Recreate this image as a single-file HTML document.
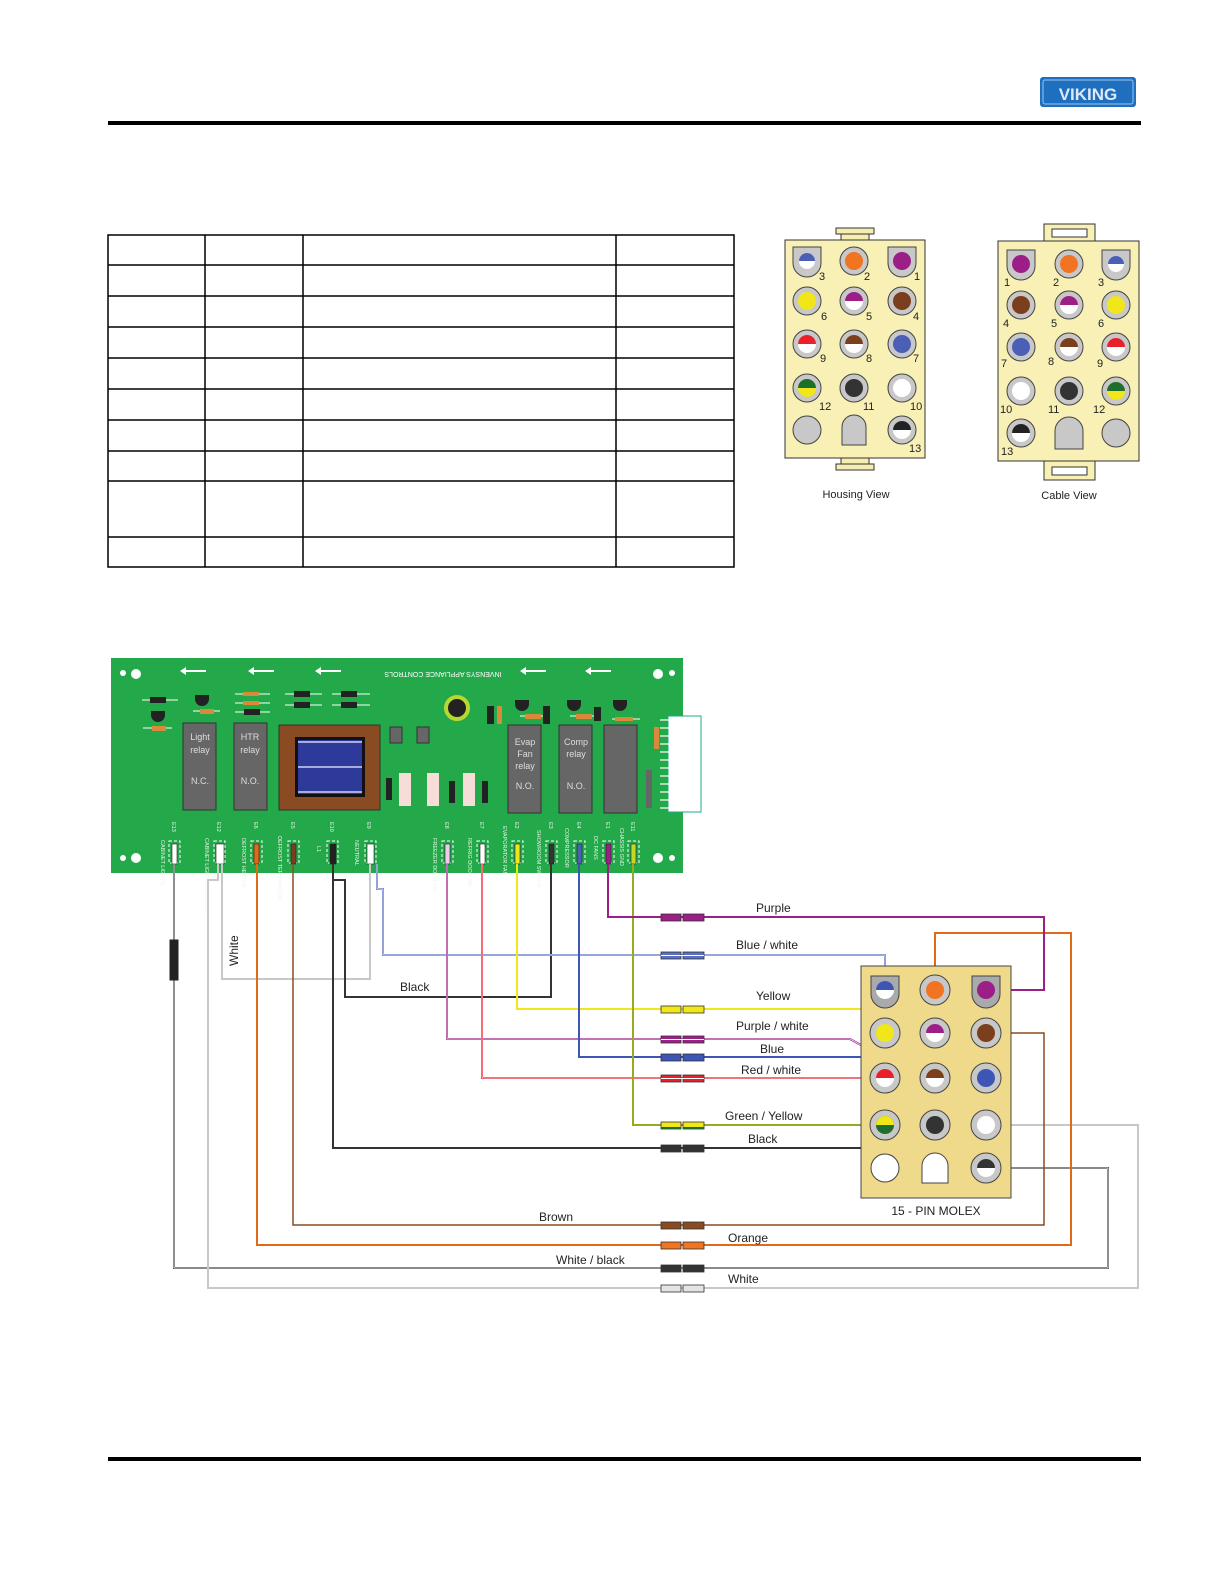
<!DOCTYPE html>
<html><head><meta charset="utf-8"><style>
html,body{margin:0;padding:0;background:#fff;overflow:hidden;width:1224px;height:1584px}
svg{display:block}
text{font-family:"Liberation Sans",Arial,sans-serif}
</style></head><body>
<svg width="1224" height="1584" viewBox="0 0 1224 1584" xmlns="http://www.w3.org/2000/svg">
<!-- header -->
<rect x="1040" y="77" width="96" height="30" rx="3" fill="#1f6fc0"/>
<rect x="1043" y="80" width="90" height="24" rx="2" fill="none" stroke="#9cc4ec" stroke-width="1"/>
<text x="1088" y="100" font-family="Liberation Serif" font-size="17" fill="#dde9f7" text-anchor="middle" font-weight="bold">VIKING</text>
<rect x="108" y="121" width="1033" height="4" fill="#000"/>
<rect x="108" y="1457" width="1033" height="4" fill="#000"/>

<!-- table -->
<g stroke="#000" stroke-width="1.5" fill="none">
<rect x="108" y="235" width="626" height="332"/>
<line x1="205" y1="235" x2="205" y2="567"/><line x1="303" y1="235" x2="303" y2="567"/><line x1="616" y1="235" x2="616" y2="567"/>
<line x1="108" y1="265" x2="734" y2="265"/><line x1="108" y1="296" x2="734" y2="296"/><line x1="108" y1="327" x2="734" y2="327"/>
<line x1="108" y1="358" x2="734" y2="358"/><line x1="108" y1="389" x2="734" y2="389"/><line x1="108" y1="420" x2="734" y2="420"/>
<line x1="108" y1="451" x2="734" y2="451"/><line x1="108" y1="481" x2="734" y2="481"/><line x1="108" y1="537" x2="734" y2="537"/>
</g>

<defs>
<g id="pg"><circle r="14" fill="#c8c8c8" stroke="#444" stroke-width="1"/></g>
<g id="sh"><path d="M-14,-14 H14 V2 A14,14 0 0 1 -14,2 Z" fill="#c8c8c8" stroke="#444" stroke-width="1"/></g>
<g id="pg2"><circle r="15" fill="#c8c8c8" stroke="#444" stroke-width="1"/></g>
</defs>

<!-- Housing view -->
<rect x="836" y="228" width="38" height="6" fill="#f6eeb0" stroke="#333"/>
<rect x="841" y="234" width="28" height="6" fill="#f6eeb0" stroke="#333"/>
<rect x="841" y="458" width="28" height="6" fill="#f6eeb0" stroke="#333"/>
<rect x="836" y="464" width="38" height="6" fill="#f6eeb0" stroke="#333"/>
<rect x="785" y="240" width="140" height="218" fill="#f8f0b4" stroke="#333"/>
<g font-size="11" fill="#222">
<use href="#sh" x="807" y="261"/><circle cx="807" cy="261" r="8" fill="#fff"/><path d="M799,261 A8,8 0 0 1 815,261Z" fill="#4a5fb5"/><text x="819" y="280">3</text>
<use href="#pg" x="854" y="261"/><circle cx="854" cy="261" r="9" fill="#f07422"/><text x="864" y="280">2</text>
<use href="#sh" x="902" y="261"/><circle cx="902" cy="261" r="9" fill="#9c1f88"/><text x="914" y="280">1</text>
<use href="#pg" x="807" y="301"/><circle cx="807" cy="301" r="9" fill="#f0e61a"/><text x="821" y="320">6</text>
<use href="#pg" x="854" y="301"/><circle cx="854" cy="301" r="9" fill="#fff"/><path d="M845,301 A9,9 0 0 1 863,301Z" fill="#9c1f88"/><text x="866" y="320">5</text>
<use href="#pg" x="902" y="301"/><circle cx="902" cy="301" r="9" fill="#7b3f1e"/><text x="913" y="320">4</text>
<use href="#pg" x="807" y="344"/><circle cx="807" cy="344" r="9" fill="#fff"/><path d="M798,344 A9,9 0 0 1 816,344Z" fill="#e8202a"/><text x="820" y="362">9</text>
<use href="#pg" x="854" y="344"/><circle cx="854" cy="344" r="9" fill="#fff"/><path d="M845,344 A9,9 0 0 1 863,344Z" fill="#7b3f1e"/><text x="866" y="362">8</text>
<use href="#pg" x="902" y="344"/><circle cx="902" cy="344" r="9" fill="#4a5fb5"/><text x="913" y="362">7</text>
<use href="#pg" x="807" y="388"/><circle cx="807" cy="388" r="9" fill="#f0e61a"/><path d="M798,388 A9,9 0 0 1 816,388Z" fill="#1e6e2e"/><text x="819" y="410">12</text>
<use href="#pg" x="854" y="388"/><circle cx="854" cy="388" r="9" fill="#333"/><text x="863" y="410">11</text>
<use href="#pg" x="902" y="388"/><circle cx="902" cy="388" r="9" fill="#fff"/><text x="910" y="410">10</text>
<circle cx="807" cy="430" r="14" fill="#c8c8c8" stroke="#444"/>
<path d="M842,445 V427 A12,12 0 0 1 866,427 V445Z" fill="#c8c8c8" stroke="#444"/>
<use href="#pg" x="902" y="430"/><circle cx="902" cy="430" r="9" fill="#fff"/><path d="M893,430 A9,9 0 0 1 911,430Z" fill="#222"/><text x="909" y="452">13</text>
</g>
<text x="856" y="498" font-size="11" text-anchor="middle" fill="#222">Housing View</text>

<!-- Cable view -->
<rect x="1044" y="224" width="51" height="17" fill="#f8f0b4" stroke="#333"/><rect x="1052" y="229" width="35" height="8" fill="#fff" stroke="#333"/>
<rect x="1044" y="461" width="51" height="19" fill="#f8f0b4" stroke="#333"/><rect x="1052" y="467" width="35" height="8" fill="#fff" stroke="#333"/>
<rect x="998" y="241" width="141" height="220" fill="#f8f0b4" stroke="#333"/>
<g font-size="11" fill="#222">
<use href="#sh" x="1021" y="264"/><circle cx="1021" cy="264" r="9" fill="#9c1f88"/><text x="1004" y="286">1</text>
<use href="#pg" x="1069" y="264"/><circle cx="1069" cy="264" r="9" fill="#f07422"/><text x="1053" y="286">2</text>
<use href="#sh" x="1116" y="264"/><circle cx="1116" cy="264" r="8" fill="#fff"/><path d="M1108,264 A8,8 0 0 1 1124,264Z" fill="#4a5fb5"/><text x="1098" y="286">3</text>
<use href="#pg" x="1021" y="305"/><circle cx="1021" cy="305" r="9" fill="#7b3f1e"/><text x="1003" y="327">4</text>
<use href="#pg" x="1069" y="305"/><circle cx="1069" cy="305" r="9" fill="#fff"/><path d="M1060,305 A9,9 0 0 1 1078,305Z" fill="#9c1f88"/><text x="1051" y="327">5</text>
<use href="#pg" x="1116" y="305"/><circle cx="1116" cy="305" r="9" fill="#f0e61a"/><text x="1098" y="327">6</text>
<use href="#pg" x="1021" y="347"/><circle cx="1021" cy="347" r="9" fill="#4a5fb5"/><text x="1001" y="367">7</text>
<use href="#pg" x="1069" y="347"/><circle cx="1069" cy="347" r="9" fill="#fff"/><path d="M1060,347 A9,9 0 0 1 1078,347Z" fill="#7b3f1e"/><text x="1048" y="365">8</text>
<use href="#pg" x="1116" y="347"/><circle cx="1116" cy="347" r="9" fill="#fff"/><path d="M1107,347 A9,9 0 0 1 1125,347Z" fill="#e8202a"/><text x="1097" y="367">9</text>
<use href="#pg" x="1021" y="391"/><circle cx="1021" cy="391" r="9" fill="#fff"/><text x="1000" y="413">10</text>
<use href="#pg" x="1069" y="391"/><circle cx="1069" cy="391" r="9" fill="#333"/><text x="1048" y="413">11</text>
<use href="#pg" x="1116" y="391"/><circle cx="1116" cy="391" r="9" fill="#f0e61a"/><path d="M1107,391 A9,9 0 0 1 1125,391Z" fill="#1e6e2e"/><text x="1093" y="413">12</text>
<use href="#pg" x="1021" y="433"/><circle cx="1021" cy="433" r="9" fill="#fff"/><path d="M1012,433 A9,9 0 0 1 1030,433Z" fill="#222"/><text x="1001" y="455">13</text>
<path d="M1055,449 V431 A14,14 0 0 1 1083,431 V449Z" fill="#c8c8c8" stroke="#444"/>
<circle cx="1116" cy="433" r="14" fill="#c8c8c8" stroke="#444"/>
</g>
<text x="1069" y="499" font-size="11" text-anchor="middle" fill="#222">Cable View</text>

<!-- Board -->
<rect x="111" y="658" width="572" height="215" fill="#23a84a"/>
<g fill="#fff">
<circle cx="123" cy="673" r="3"/><circle cx="136" cy="674" r="5"/><circle cx="658" cy="674" r="5"/><circle cx="672" cy="673" r="3"/>
<circle cx="123" cy="858" r="3"/><circle cx="136" cy="858" r="5"/><circle cx="658" cy="858" r="5"/><circle cx="672" cy="858" r="3"/>
<path d="M180,671 l6,-4 v3 h20 v2 h-20 v3z"/><path d="M248,671 l6,-4 v3 h20 v2 h-20 v3z"/><path d="M315,671 l6,-4 v3 h20 v2 h-20 v3z"/><path d="M520,671 l6,-4 v3 h20 v2 h-20 v3z"/><path d="M585,671 l6,-4 v3 h20 v2 h-20 v3z"/>
</g>
<text x="443" y="668" font-size="7" fill="#fff" text-anchor="middle" transform="rotate(180 443 670)">INVENSYS APPLIANCE CONTROLS</text>
<circle cx="457" cy="708" r="11" fill="#222" stroke="#b8d830" stroke-width="4"/>
<g stroke="#fff" stroke-width="1">
<line x1="142" y1="700" x2="178" y2="700"/><line x1="143" y1="728" x2="172" y2="728"/><line x1="193" y1="711" x2="220" y2="711"/>
<line x1="235" y1="694" x2="270" y2="694"/><line x1="235" y1="703" x2="270" y2="703"/><line x1="235" y1="712" x2="270" y2="712"/>
<line x1="285" y1="694" x2="322" y2="694"/><line x1="285" y1="705" x2="322" y2="705"/><line x1="332" y1="694" x2="370" y2="694"/><line x1="332" y1="705" x2="370" y2="705"/>
<line x1="520" y1="716" x2="545" y2="716"/><line x1="570" y1="716" x2="595" y2="716"/><line x1="612" y1="719" x2="640" y2="719"/>
</g>
<g fill="#222">
<rect x="150" y="697" width="16" height="6"/><rect x="294" y="691" width="16" height="6"/><rect x="294" y="702" width="16" height="6"/><rect x="341" y="691" width="16" height="6"/><rect x="341" y="702" width="16" height="6"/><rect x="244" y="709" width="16" height="6"/>
<path d="M195,695 h14 v4 a7,7 0 0 1 -14,0z"/><path d="M151,711 h14 v4 a7,7 0 0 1 -14,0z"/>
<path d="M515,700 h14 v4 a7,7 0 0 1 -14,0z"/><path d="M567,700 h14 v4 a7,7 0 0 1 -14,0z"/><path d="M613,700 h14 v4 a7,7 0 0 1 -14,0z"/>
<rect x="487" y="706" width="7" height="18"/><rect x="543" y="706" width="7" height="18"/><rect x="594" y="707" width="7" height="14"/>
<rect x="386" y="778" width="6" height="22"/><rect x="449" y="781" width="6" height="22"/><rect x="482" y="781" width="6" height="22"/>
</g>
<g fill="#d88a3a"><rect x="152" y="726" width="14" height="5"/><rect x="200" y="709" width="14" height="5"/><rect x="243" y="692" width="16" height="4"/><rect x="243" y="701" width="16" height="4"/><rect x="497" y="706" width="5" height="18"/><rect x="525" y="714" width="16" height="5"/><rect x="576" y="714" width="16" height="5"/><rect x="615" y="717" width="18" height="4"/><rect x="654" y="727" width="5" height="22"/></g>
<rect x="390" y="727" width="12" height="16" fill="#666" stroke="#333"/><rect x="417" y="727" width="12" height="16" fill="#666" stroke="#333"/>
<g fill="#f7dcd8"><rect x="399" y="773" width="12" height="33"/><rect x="427" y="773" width="12" height="33"/><rect x="463" y="773" width="12" height="33"/></g>
<rect x="646" y="770" width="6" height="38" fill="#666"/>
<g fill="#666" stroke="#333"><rect x="183" y="723" width="33" height="87"/><rect x="234" y="723" width="33" height="87"/><rect x="508" y="725" width="33" height="88"/><rect x="559" y="725" width="33" height="88"/><rect x="604" y="725" width="33" height="88"/></g>
<g fill="#ddd" font-size="9" text-anchor="middle">
<text x="200" y="740">Light</text><text x="200" y="753">relay</text><text x="200" y="784">N.C.</text>
<text x="250" y="740">HTR</text><text x="250" y="753">relay</text><text x="250" y="784">N.O.</text>
<text x="525" y="745">Evap</text><text x="525" y="757">Fan</text><text x="525" y="769">relay</text><text x="525" y="789">N.O.</text>
<text x="576" y="745">Comp</text><text x="576" y="757">relay</text><text x="576" y="789">N.O.</text>
</g>
<rect x="279" y="725" width="101" height="85" fill="#8a4a22" stroke="#333"/>
<rect x="295" y="737" width="70" height="60" fill="#111"/>
<rect x="298" y="740" width="64" height="54" fill="#2e3a9a"/>
<g stroke="#cfd2ef" stroke-width="1.5"><line x1="298" y1="742" x2="362" y2="742"/><line x1="298" y1="767" x2="362" y2="767"/><line x1="298" y1="792" x2="362" y2="792"/></g>
<rect x="668" y="716" width="33" height="96" fill="#fff" stroke="#2a8"/>
<g stroke="#fff" stroke-width="1.2">
<line x1="660" y1="720" x2="670" y2="720"/><line x1="660" y1="728" x2="670" y2="728"/><line x1="660" y1="736" x2="670" y2="736"/><line x1="660" y1="744" x2="670" y2="744"/><line x1="660" y1="752" x2="670" y2="752"/><line x1="660" y1="760" x2="670" y2="760"/><line x1="660" y1="768" x2="670" y2="768"/><line x1="660" y1="776" x2="670" y2="776"/><line x1="660" y1="784" x2="670" y2="784"/><line x1="660" y1="792" x2="670" y2="792"/><line x1="660" y1="800" x2="670" y2="800"/><line x1="660" y1="808" x2="670" y2="808"/>
</g>
<g stroke="#fff" stroke-width="1" fill="none" stroke-dasharray="3,2">
<rect x="169" y="841" width="11" height="22"/><rect x="214" y="841" width="11" height="22"/><rect x="251" y="841" width="11" height="22"/><rect x="288" y="841" width="11" height="22"/><rect x="327" y="841" width="11" height="22"/><rect x="365" y="841" width="11" height="22"/><rect x="442" y="841" width="11" height="22"/><rect x="477" y="841" width="11" height="22"/><rect x="512" y="841" width="11" height="22"/><rect x="546" y="841" width="11" height="22"/><rect x="574" y="841" width="11" height="22"/><rect x="603" y="841" width="11" height="22"/><rect x="628" y="841" width="11" height="22"/>
</g>
<g stroke="#222" stroke-width="0.6">
<rect x="172" y="844" width="5" height="20" fill="#fff"/><rect x="216" y="844" width="8" height="20" fill="#fff"/><rect x="254" y="844" width="5" height="20" fill="#e06a1a"/><rect x="291" y="844" width="5" height="20" fill="#7b3f1e"/><rect x="330" y="844" width="6" height="20" fill="#222"/><rect x="367" y="844" width="7" height="20" fill="#fff"/><rect x="445" y="844" width="5" height="20" fill="#f2c8ee"/><rect x="480" y="844" width="5" height="20" fill="#fff"/><rect x="515" y="844" width="5" height="20" fill="#f0e61a"/><rect x="549" y="844" width="5" height="20" fill="#333"/><rect x="577" y="844" width="5" height="20" fill="#4a5fb5"/><rect x="606" y="844" width="5" height="20" fill="#9c1f88"/><rect x="631" y="844" width="5" height="20" fill="#c8d820"/>
</g>
<g fill="#e8f8e8" font-size="5.5">
<text transform="translate(172,822) rotate(90)">E13</text><text transform="translate(217,822) rotate(90)">E12</text><text transform="translate(254,822) rotate(90)">E6</text><text transform="translate(291,822) rotate(90)">E5</text><text transform="translate(330,822) rotate(90)">E10</text><text transform="translate(367,822) rotate(90)">E9</text><text transform="translate(445,822) rotate(90)">E8</text><text transform="translate(480,822) rotate(90)">E7</text><text transform="translate(515,822) rotate(90)">E2</text><text transform="translate(549,822) rotate(90)">E3</text><text transform="translate(577,822) rotate(90)">E4</text><text transform="translate(606,822) rotate(90)">E1</text><text transform="translate(631,822) rotate(90)">E11</text>
<text transform="translate(161,840) rotate(90)">CABINET LIGHTS</text><text transform="translate(205,838) rotate(90)">CABINET LIGHTS COMMON</text><text transform="translate(242,838) rotate(90)">DEFROST HEATER</text><text transform="translate(278,836) rotate(90)">DEFROST TERMINATOR</text><text transform="translate(317,846) rotate(90)">L1</text><text transform="translate(355,840) rotate(90)">NEUTRAL</text><text transform="translate(433,838) rotate(90)">FREEZER DOOR SW</text><text transform="translate(468,838) rotate(90)">REFRIG DOOR SW</text><text transform="translate(503,826) rotate(90)">EVAPORATOR FAN</text><text transform="translate(537,830) rotate(90)">SHOWROOM SWITCH</text><text transform="translate(565,828) rotate(90)">COMPRESSOR</text><text transform="translate(594,836) rotate(90)">DC FANS</text><text transform="translate(620,828) rotate(90)">CHASSIS GND</text>
</g>

<!-- wires -->
<g fill="none" stroke-width="2">
<path d="M174,864 V1268 H1108 V1168 H992" stroke="#444"/>
<path d="M174,864 V1268 H1108 V1168 H992" stroke="#fff" stroke-width="0.8"/>
<rect x="170" y="940" width="8" height="40" fill="#222" stroke="#222" stroke-width="1"/>
<path d="M218,864 V880 H208 V1288 H1138 V1125 H992" stroke="#c8c8c8"/>
<path d="M222,864 V979 H370 V864" stroke="#c8c8c8"/>
<path d="M257,864 V1245 H1071 V933 H935 V975" stroke="#e06a1a"/>
<path d="M293,864 V1225 H1044 V1033 H1000" stroke="#8a4a22" stroke-width="1.5"/>
<path d="M333,864 V1148 H935 V1140" stroke="#333"/>
<path d="M551,864 V997 H345 V880 H333" stroke="#333"/>
<path d="M377,864 V889 H383 V955 H885 V975" stroke="#5b6fc5"/>
<path d="M377,864 V889 H383 V955 H885 V975" stroke="#fff" stroke-width="0.7"/>
<path d="M517,864 V1009 H885 V1020" stroke="#f0e61a"/>
<path d="M447,864 V1039 H850 L870,1050 H935 V1048" stroke="#9c1f88"/>
<path d="M447,864 V1039 H850 L870,1050 H935 V1048" stroke="#fff" stroke-width="0.7"/>
<path d="M579,864 V1057 H986 V1065" stroke="#3d55b5"/>
<path d="M482,864 V1078 H872" stroke="#e8202a"/>
<path d="M482,864 V1078 H872" stroke="#fff" stroke-width="0.7"/>
<path d="M633,864 V1125 H872" stroke="#9aaa20"/>
<path d="M608,864 V917 H1044 V990 H1000" stroke="#9c1f88"/>
<path d="M935,1090 V1098 H986 V1090" stroke="#8a4a22" stroke-width="1.5"/>
</g>
<g stroke="#333" stroke-width="0.8">
<rect x="661" y="914" width="20" height="7" fill="#9c1f88"/><rect x="683" y="914" width="21" height="7" fill="#9c1f88"/>
<rect x="661" y="952" width="20" height="7" fill="#5b6fc5"/><rect x="683" y="952" width="21" height="7" fill="#5b6fc5"/>
<rect x="661" y="1006" width="20" height="7" fill="#f0e61a"/><rect x="683" y="1006" width="21" height="7" fill="#f0e61a"/>
<rect x="661" y="1036" width="20" height="7" fill="#9c1f88"/><rect x="683" y="1036" width="21" height="7" fill="#9c1f88"/>
<rect x="661" y="1054" width="20" height="7" fill="#3d55b5"/><rect x="683" y="1054" width="21" height="7" fill="#3d55b5"/>
<rect x="661" y="1075" width="20" height="7" fill="#e8202a"/><rect x="683" y="1075" width="21" height="7" fill="#e8202a"/>
<rect x="661" y="1122" width="20" height="7" fill="#f0e61a"/><rect x="683" y="1122" width="21" height="7" fill="#f0e61a"/>
<rect x="661" y="1145" width="20" height="7" fill="#333"/><rect x="683" y="1145" width="21" height="7" fill="#333"/>
<rect x="661" y="1222" width="20" height="7" fill="#8a4a22"/><rect x="683" y="1222" width="21" height="7" fill="#8a4a22"/>
<rect x="661" y="1242" width="20" height="7" fill="#f07422"/><rect x="683" y="1242" width="21" height="7" fill="#f07422"/>
<rect x="661" y="1265" width="20" height="7" fill="#333"/><rect x="683" y="1265" width="21" height="7" fill="#333"/>
<rect x="661" y="1285" width="20" height="7" fill="#e4e4e4"/><rect x="683" y="1285" width="21" height="7" fill="#e4e4e4"/>
</g>
<g fill="#fff"><rect x="661" y="955" width="43" height="1"/><rect x="661" y="1039" width="43" height="1"/><rect x="661" y="1078" width="43" height="1"/></g>
<g fill="#1e6e2e"><rect x="661" y="1127" width="20" height="2"/><rect x="683" y="1127" width="21" height="2"/></g>

<!-- Molex -->
<rect x="861" y="966" width="150" height="232" fill="#efd98a" stroke="#444"/>
<path d="M871,976 H899 V994 A14,14 0 0 1 871,994Z" fill="#aaa" stroke="#444"/><circle cx="885" cy="990" r="9" fill="#fff"/><path d="M876,990 A9,9 0 0 1 894,990Z" fill="#3d55b5"/>
<use href="#pg2" x="935" y="990"/><circle cx="935" cy="990" r="9" fill="#f07422"/>
<path d="M972,976 H1000 V994 A14,14 0 0 1 972,994Z" fill="#aaa" stroke="#444"/><circle cx="986" cy="990" r="9" fill="#9c1f88"/>
<use href="#pg2" x="885" y="1033"/><circle cx="885" cy="1033" r="9" fill="#f0e61a"/>
<use href="#pg2" x="935" y="1033"/><circle cx="935" cy="1033" r="9" fill="#fff"/><path d="M926,1033 A9,9 0 0 1 944,1033Z" fill="#9c1f88"/>
<use href="#pg2" x="986" y="1033"/><circle cx="986" cy="1033" r="9" fill="#7b3f1e"/>
<use href="#pg2" x="885" y="1078"/><circle cx="885" cy="1078" r="9" fill="#fff"/><path d="M876,1078 A9,9 0 0 1 894,1078Z" fill="#e8202a"/>
<use href="#pg2" x="935" y="1078"/><circle cx="935" cy="1078" r="9" fill="#fff"/><path d="M926,1078 A9,9 0 0 1 944,1078Z" fill="#7b3f1e"/>
<use href="#pg2" x="986" y="1078"/><circle cx="986" cy="1078" r="9" fill="#3d55b5"/>
<use href="#pg2" x="885" y="1125"/><circle cx="885" cy="1125" r="9" fill="#1e6e2e"/><path d="M876,1125 A9,9 0 0 1 894,1125Z" fill="#f0e61a"/>
<use href="#pg2" x="935" y="1125"/><circle cx="935" cy="1125" r="9" fill="#333"/>
<use href="#pg2" x="986" y="1125"/><circle cx="986" cy="1125" r="9" fill="#fff"/>
<circle cx="885" cy="1168" r="14" fill="#fff" stroke="#444"/>
<path d="M922,1183 V1166 A13,13 0 0 1 948,1166 V1183Z" fill="#fff" stroke="#444"/>
<use href="#pg2" x="986" y="1168"/><circle cx="986" cy="1168" r="9" fill="#fff"/><path d="M977,1168 A9,9 0 0 1 995,1168Z" fill="#333"/>
<text x="936" y="1215" font-size="12" text-anchor="middle" fill="#222">15 - PIN MOLEX</text>

<g font-size="12" fill="#222">
<text x="756" y="912">Purple</text><text x="736" y="949">Blue / white</text><text x="756" y="1000">Yellow</text><text x="736" y="1030">Purple / white</text><text x="760" y="1053">Blue</text><text x="741" y="1074">Red / white</text><text x="725" y="1120">Green / Yellow</text><text x="748" y="1143">Black</text><text x="539" y="1221">Brown</text><text x="728" y="1242">Orange</text><text x="556" y="1264">White / black</text><text x="728" y="1283">White</text><text x="400" y="991">Black</text>
<text transform="translate(238,966) rotate(-90)">White</text>
</g>
</svg>
</body></html>
